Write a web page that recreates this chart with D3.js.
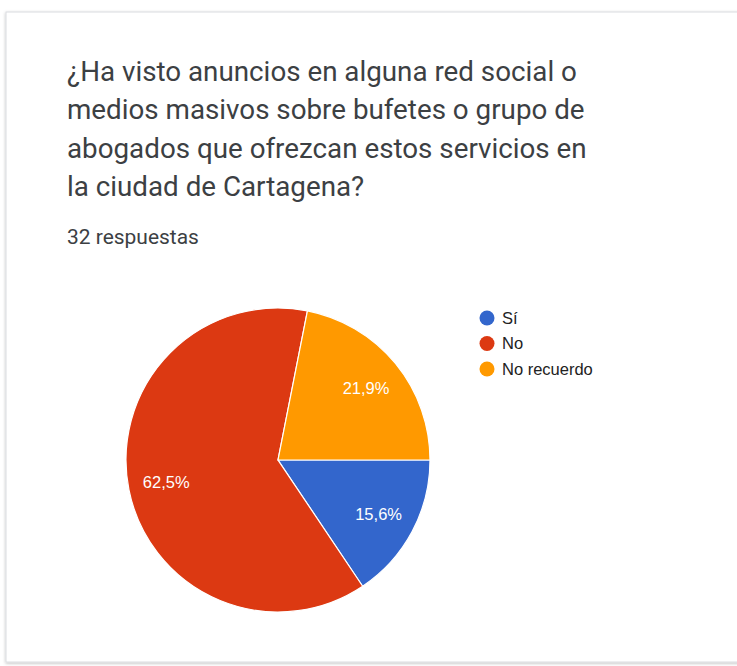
<!DOCTYPE html>
<html>
<head>
<meta charset="utf-8">
<script src="https://cdn.jsdelivr.net/npm/d3@7"></script>
<style>
html,body{margin:0;padding:0;background:#fff;}
svg{display:block;}
</style>
</head>
<body>
<svg id="chart" width="737" height="666"></svg>
<script>
const titleLines = [
  "¿Ha visto anuncios en alguna red social o",
  "medios masivos sobre bufetes o grupo de",
  "abogados que ofrezcan estos servicios en",
  "la ciudad de Cartagena?"
];
const subtitle = "32 respuestas";
const categories = ["Sí", "No", "No recuerdo"];
const values = [15.6, 62.5, 21.9];
const valueLabels = ["15,6%", "62,5%", "21,9%"];
const colors = ["#3366cc", "#dc3912", "#ff9900"];

const svg = d3.select("#chart");

const defs = svg.append("defs");
const f = defs.append("filter").attr("id","sh").attr("x","-5%").attr("y","-5%").attr("width","110%").attr("height","110%");
f.append("feDropShadow").attr("dx",0).attr("dy",1).attr("stdDeviation",1.5).attr("flood-color","#000").attr("flood-opacity",0.25);

svg.append("rect").attr("x",6).attr("y",12).attr("width",740).attr("height",650)
  .attr("fill","#fff").attr("stroke","#dadce0").attr("stroke-width",1).attr("filter","url(#sh)");

const titleFont = "Roboto, 'Open Sans', sans-serif";
const chartFont = "'Liberation Sans', Arial, sans-serif";

function fitSize(sel, base, target){
  const w = sel.node().getComputedTextLength();
  return base * target / w;
}

const titleSel = svg.append("g").selectAll("text").data(titleLines).join("text")
  .attr("x",67).attr("y",(d,i)=>81+i*38.3)
  .attr("font-family",titleFont).attr("font-size",24).attr("fill","#3c4043")
  .text(d=>d);
const ts = fitSize(d3.select(titleSel.nodes()[0]), 24, 510);
titleSel.attr("font-size",ts);

const sub = svg.append("text").attr("x",67).attr("y",244)
  .attr("font-family",titleFont).attr("font-size",16).attr("fill","#3c4043")
  .text(subtitle);
sub.attr("font-size",fitSize(sub,16,132));

const cx = 278, cy = 460, r = 152;
const pie = d3.pie().sort(null).value(d=>d)
  .startAngle(Math.PI/2).endAngle(Math.PI/2 + 2*Math.PI);
const arcs = pie(values);
const arc = d3.arc().innerRadius(0).outerRadius(r);
const labelArc = d3.arc().innerRadius(r*0.75).outerRadius(r*0.75);

const g = svg.append("g").attr("transform",`translate(${cx},${cy})`);
g.selectAll("path").data(arcs).join("path")
  .attr("d",arc).attr("fill",(d,i)=>colors[i])
  .attr("stroke","#fff").attr("stroke-width",1.2);

g.selectAll("text.lbl").data(arcs).join("text").attr("class","lbl")
  .attr("transform",d=>{
    const c = labelArc.centroid(d);
    return `translate(${c[0]},${c[1]})`;
  })
  .attr("text-anchor","middle").attr("dy","0.36em")
  .attr("font-family",chartFont).attr("font-size",16.5).attr("fill","#fff")
  .text((d,i)=>valueLabels[i]);

const lg = svg.append("g").attr("transform","translate(487,318)");
const item = lg.selectAll("g").data(categories).join("g")
  .attr("transform",(d,i)=>`translate(0,${i*25.5})`);
item.append("circle").attr("r",7.5).attr("fill",(d,i)=>colors[i]);
item.append("text").attr("x",15).attr("dy","0.36em")
  .attr("font-family",chartFont).attr("font-size",16.5).attr("fill","#222")
  .text(d=>d);
</script>
</body>
</html>
